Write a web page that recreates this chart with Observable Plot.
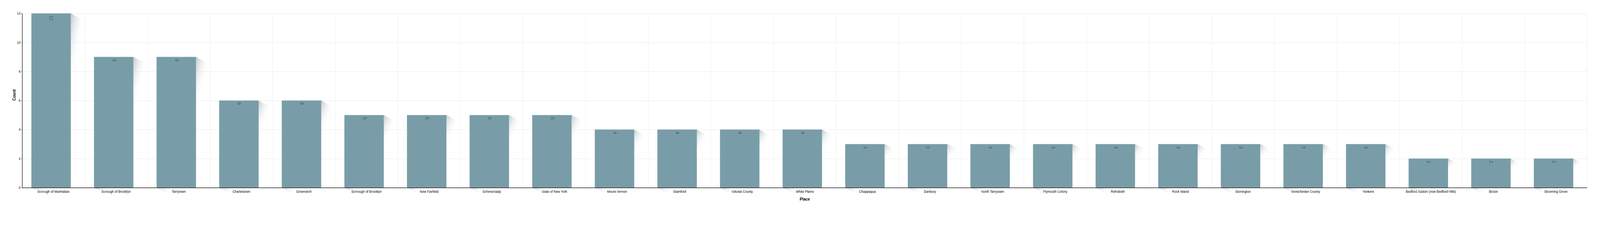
<!DOCTYPE html>
<html>
<head>
<meta charset="utf-8">
<script src="https://cdn.jsdelivr.net/npm/d3@7"></script>
<script src="https://cdn.jsdelivr.net/npm/@observablehq/plot@0.6"></script>
<style>
  body { margin: 0; background: #fff; }
  #chart svg { display: block; }
</style>
</head>
<body>
<div id="chart"></div>
<script>
const places = [
  "Borough of Manhattan", "Borough of Brooklyn", "Tarrytown", "Charlestown", "Greenwich",
  "Borrough of Brooklyn", "New Fairfield", "Schenectady", "State of New York", "Mount Vernon",
  "Stamford", "Volusia County", "White Plains", "Chappaqua", "Danbury",
  "North Tarrytown", "Plymouth Colony", "Rehoboth", "Rock Island", "Stonington",
  "Westchester County", "Yonkers", "Bedford Station (now Bedford Hills)", "Bicton", "Blooming Grove"
];
const counts = [12, 9, 9, 6, 6, 5, 5, 5, 5, 4, 4, 4, 4, 3, 3, 3, 3, 3, 3, 3, 3, 3, 2, 2, 2];
const yTicks = [0, 2, 4, 6, 8, 10, 12];

const data = places.map((place, i) => ({place, count: counts[i]}));

const W = 4490, H = 601;
const ML = 62, MR = 36, MT = 37.5, MB = 75;
const BW = (W - ML - MR) / places.length;
const INSET_L = 26, INSET_R = 39;
const SHX = 44, SHY = 24;
const NS = "http://www.w3.org/2000/svg";

function shadowMark(index, scales, values, dimensions) {
  const x = (scales && scales.x) ? scales.x : d3.scaleBand(places, [ML, W - MR]);
  const y = (scales && scales.y) ? scales.y : d3.scaleLinear([0, 12], [H - MB, MT]);
  const g = document.createElementNS(NS, "g");
  const defs = document.createElementNS(NS, "defs");
  defs.innerHTML = `
    <linearGradient id="shR" x1="0" y1="0" x2="0.168" y2="0.374">
      <stop offset="0" stop-color="#a9b1b6" stop-opacity="0.7"/>
      <stop offset="1" stop-color="#ffffff" stop-opacity="0"/>
    </linearGradient>
    <linearGradient id="shB" x1="0" y1="0" x2="0.33" y2="0.05">
      <stop offset="0" stop-color="#a9b1b6" stop-opacity="0.65"/>
      <stop offset="1" stop-color="#ffffff" stop-opacity="0"/>
    </linearGradient>`;
  g.appendChild(defs);
  for (const d of data) {
    const bx = x(d.place);
    const x0 = bx + INSET_L, x1 = bx + BW - INSET_R;
    const yt = y(d.count), yb = y(0);
    const r = document.createElementNS(NS, "polygon");
    r.setAttribute("points", `${x1},${yt} ${x1 + SHX},${yt + SHY} ${x1 + SHX},${yb} ${x1},${yb}`);
    r.setAttribute("fill", "url(#shR)");
    g.appendChild(r);
    const b = document.createElementNS(NS, "polygon");
    b.setAttribute("points", `${x0},${yb} ${x1},${yb} ${x1 + SHX},${yb + SHY} ${x0 + SHX},${yb + SHY}`);
    b.setAttribute("fill", "url(#shB)");
    g.appendChild(b);
  }
  return g;
}

const chart = Plot.plot({
  width: W,
  height: H,
  marginLeft: ML,
  marginRight: MR,
  marginTop: MT,
  marginBottom: MB,
  style: {fontFamily: "'Liberation Sans', Arial, sans-serif", fontSize: "9px", background: "#fff", color: "#000"},
  x: {domain: places, padding: 0, round: false, tickSize: 0, tickPadding: 7, label: null},
  y: {domain: [0, 12], ticks: yTicks, tickSize: 2, tickPadding: 3, label: null, tickFormat: d => String(d)},
  marks: [
    Plot.ruleY(yTicks.filter(t => t > 0), {stroke: "#e9e9e9", strokeWidth: 1}),
    Plot.ruleX(places, {x: d => d, dx: BW / 2, stroke: "#ececec", strokeWidth: 1}),
    shadowMark,
    Plot.barY(data, {x: "place", y: "count", fill: "#799da8", insetLeft: INSET_L, insetRight: INSET_R, rx: 1}),
    Plot.text(data, {x: "place", y: "count", text: d => String(d.count), rotate: 90, textAnchor: "start",
      dy: 5, dx: -6.5, fontSize: 13, fill: "#3a4a50", fillOpacity: 0.85}),
    Plot.ruleY([0], {stroke: "#000", strokeWidth: 1.3}),
    Plot.ruleX([places[0]], {x: d => d, dx: -BW / 2, y1: 0, y2: 12, stroke: "#000", strokeWidth: 1.3}),
    Plot.text(["Count"], {text: d => d, frameAnchor: "left", rotate: -90, dx: -22, fontSize: 11, fontWeight: "bold"}),
    Plot.text(["Place"], {text: d => d, frameAnchor: "bottom", dy: 36, fontSize: 11, fontWeight: "bold"})
  ]
});
document.getElementById("chart").appendChild(chart);
</script>
</body>
</html>
